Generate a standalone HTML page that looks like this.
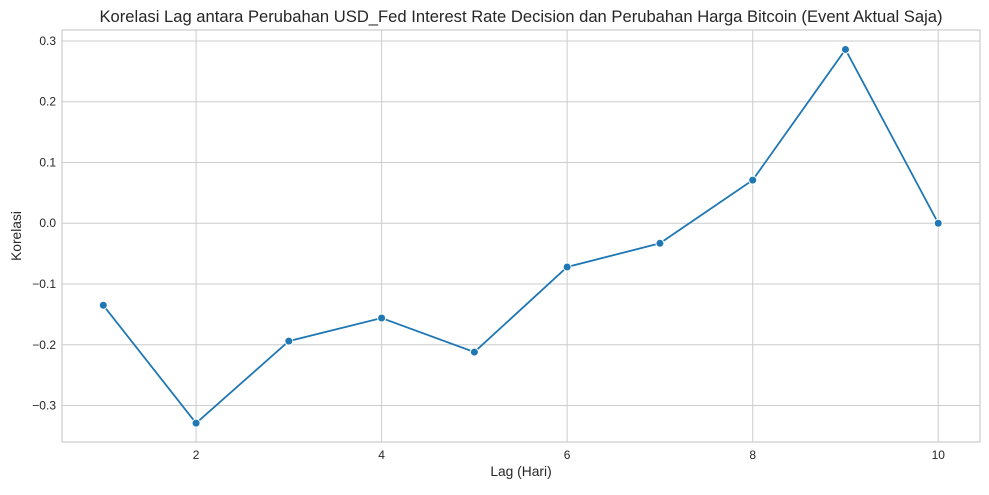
<!DOCTYPE html>
<html><head><meta charset="utf-8"><style>
body{margin:0;background:#fff;font-family:"Liberation Sans",sans-serif}
</style></head><body>
<svg width="989" height="490" id="chart" xmlns="http://www.w3.org/2000/svg" font-family="Liberation Sans, sans-serif"></svg>
<script>
const lags=[1,2,3,4,5,6,7,8,9,10];
const corr=[-0.135,-0.329,-0.194,-0.156,-0.212,-0.072,-0.033,0.071,0.286,0.0];
const xTicks=[2,4,6,8,10];
const yTicks=[-0.3,-0.2,-0.1,0.0,0.1,0.2,0.3];
const L=62,R=980,T=30,B=442;
const xMin=0.555,xMax=10.45,yMin=-0.36,yMax=0.318;
const sx=v=>L+(v-xMin)/(xMax-xMin)*(R-L);
const sy=v=>B-(v-yMin)/(yMax-yMin)*(B-T);
const svg=document.getElementById('chart');
const NS='http://www.w3.org/2000/svg';
function mk(tag,attrs,parent){const e=document.createElementNS(NS,tag);for(const k in attrs)e.setAttribute(k,attrs[k]);(parent||svg).appendChild(e);return e;}
const grid=mk('g',{});


xTicks.forEach(t=>{
  const l=mk('line',{x1:sx(t),x2:sx(t),y1:T,y2:B,stroke:'#cccccc','stroke-width':1},grid);
  
  
  const tx=mk('text',{x:sx(t),y:B+17,'text-anchor':'middle','font-size':12,fill:'#262626'});
  tx.textContent=t;
  
  
});
yTicks.forEach(t=>{
  const l=mk('line',{x1:L,x2:R,y1:sy(t),y2:sy(t),stroke:'#cccccc','stroke-width':1},grid);
  
  
  const tx=mk('text',{x:L-6,y:sy(t)+4,'text-anchor':'end','font-size':12,fill:'#262626'});
  tx.textContent=(t<0?'\u2212':'')+Math.abs(t).toFixed(1);
  
  
});
const frame=mk('rect',{x:L,y:T,width:R-L,height:B-T,fill:'none',stroke:'#cccccc','stroke-width':1.2});


const line=mk('polyline',{points:lags.map((x,i)=>sx(x)+','+sy(corr[i])).join(' '),fill:'none',stroke:'#1f77b4','stroke-width':1.8});


lags.forEach((x,i)=>{
  const c=mk('circle',{cx:sx(x),cy:sy(corr[i]),r:4,fill:'#1f77b4',stroke:'#fff','stroke-width':1});
  
  
});
const title=mk('text',{x:(L+R)/2,y:22,'text-anchor':'middle','font-size':16.6,fill:'#262626'});
title.textContent='Korelasi Lag antara Perubahan USD_Fed Interest Rate Decision dan Perubahan Harga Bitcoin (Event Aktual Saja)';


const xl=mk('text',{x:(L+R)/2,y:476,'text-anchor':'middle','font-size':13.8,fill:'#262626'});
xl.textContent='Lag (Hari)';


const yl=mk('text',{x:21,y:(T+B)/2,'text-anchor':'middle','font-size':13.8,fill:'#262626',transform:'rotate(-90 21 '+((T+B)/2)+')'});
yl.textContent='Korelasi';


</script>
</body></html>
